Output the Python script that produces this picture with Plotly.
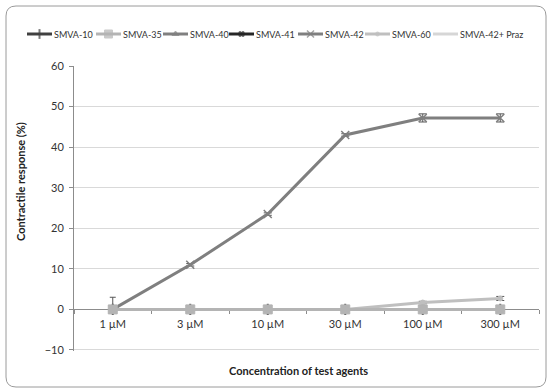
import plotly.graph_objects as go

# ---------------- data ----------------
categories = ["1 µM", "3 µM", "10 µM", "30 µM", "100 µM", "300 µM"]
series_names = ["SMVA-10", "SMVA-35", "SMVA-40", "SMVA-41", "SMVA-42", "SMVA-60", "SMVA-42+ Praz"]
smva10 = [0, 0, 0, 0, 0, 0]
smva10_err = [3.0, 0, 0, 0, 0, 0]
smva35 = [0, 0, 0, 0, 0, 0]
smva40 = [0, 0, 0, 0, 0, 0]
smva41 = [0, 0, 0, 0, 0, 0]
smva42 = [0, 11.0, 23.5, 43.0, 47.2, 47.2]
smva42_err = [0, 0.3, 0.3, 0.3, 1.0, 1.0]
smva60 = [0, 0, 0, 0, 1.7, 2.7]
smva60_err = [0, 0, 0, 0, 0.3, 0.5]
praz = [0, 0, 0, 0, 0, 0]
y_ticks = [-10, 0, 10, 20, 30, 40, 50, 60]

# ---------------- styles ----------------
FONT = "Lato"
TXT = "#333333"
styles = [
    dict(color="#404040", symbol="line-ns-open", size=8, mlw=2),
    dict(color="#b4b4b4", symbol="square", size=9, mlw=1),
    dict(color="#808080", symbol="triangle-up", size=7, mlw=1),
    dict(color="#262626", symbol="hash-open", size=7, mlw=1.5),
    dict(color="#7f7f7f", symbol="x-thin-open", size=8, mlw=1.5),
    dict(color="#bfbfbf", symbol="circle", size=5, mlw=1),
    dict(color="#d6d6d6", symbol="circle", size=0, mlw=0),
]
values = [smva10, smva35, smva40, smva41, smva42, smva60, praz]
errs = [smva10_err, None, None, None, smva42_err, smva60_err, None]
draw_order = [0, 2, 3, 4, 5, 6, 1]

W, H = 550, 392
# plot area in pixels
PX_L, PX_R, PX_T, PX_B = 74, 539, 66, 351

fig = go.Figure()

for i in draw_order:
    name, vals, st, err = series_names[i], values[i], styles[i], errs[i]
    error_y = None
    if err is not None:
        if i == 0:
            error_y = dict(type="data", array=err, arrayminus=[0] * len(err), symmetric=False,
                           color="#555555", thickness=1, width=3)
        else:
            error_y = dict(type="data", array=err, color="#555555", thickness=1, width=4)
    fig.add_trace(go.Scatter(
        x=categories, y=vals, name=name, mode="lines+markers",
        line=dict(color=st["color"], width=3),
        marker=dict(symbol=st["symbol"], size=st["size"], color=st["color"],
                    line=dict(color=st["color"], width=st["mlw"])),
        error_y=error_y, showlegend=False, xaxis="x", yaxis="y",
    ))

# ---------------- custom legend (drawn on a pixel overlay axis) ----------------
LEG_X = [27, 96, 163, 229, 298, 365, 433]
LEG_Y = 34
LEG_LEN = 25
for name, st, x0 in zip(series_names, styles, LEG_X):
    fig.add_trace(go.Scatter(
        x=[x0, x0 + LEG_LEN / 2, x0 + LEG_LEN], y=[LEG_Y] * 3, mode="lines+markers",
        line=dict(color=st["color"], width=3),
        marker=dict(symbol=st["symbol"], size=[0, max(st["size"] - 1, 0), 0], color=st["color"],
                    line=dict(color=st["color"], width=st["mlw"])),
        showlegend=False, hoverinfo="skip", xaxis="x2", yaxis="y2",
    ))
    fig.add_annotation(x=x0 + LEG_LEN, y=LEG_Y, xref="x2", yref="y2", text=name,
                       showarrow=False, xanchor="left", yanchor="middle",
                       font=dict(family=FONT, size=9, color=TXT))

# axis titles
fig.add_annotation(x=298, y=370, xref="x2", yref="y2", text="<b>Concentration of test agents</b>",
                   showarrow=False, xanchor="center", yanchor="middle",
                   font=dict(family=FONT, size=11, color="#222222"))
fig.add_annotation(x=20, y=182, xref="x2", yref="y2", text="<b>Contractile response (%)</b>",
                   showarrow=False, textangle=-90, xanchor="center", yanchor="middle",
                   font=dict(family=FONT, size=11, color="#222222"))

# outer rounded border
r = 10
x0b, y0b, x1b, y1b = 6, 6, 546, 387
path = (f"M {x0b + r},{y0b} L {x1b - r},{y0b} Q {x1b},{y0b} {x1b},{y0b + r} "
        f"L {x1b},{y1b - r} Q {x1b},{y1b} {x1b - r},{y1b} L {x0b + r},{y1b} "
        f"Q {x0b},{y1b} {x0b},{y1b - r} L {x0b},{y0b + r} Q {x0b},{y0b} {x0b + r},{y0b} Z")
fig.add_shape(type="path", path=path, xref="x2", yref="y2",
              line=dict(color="#9a9a9a", width=1))

y_lo, y_hi = y_ticks[0], y_ticks[-1]
pad = 0.25  # small headroom so the -10 gridline is drawn inside the plot area
zero_frac = ((H - PX_B) + (0 - (y_lo - pad)) / (y_hi - y_lo + pad) * (PX_B - PX_T)) / H

fig.update_layout(
    width=W, height=H,
    margin=dict(l=0, r=0, t=0, b=0),
    paper_bgcolor="white", plot_bgcolor="rgba(0,0,0,0)",
    font=dict(family=FONT, color=TXT),
    showlegend=False, hovermode=False,
    xaxis=dict(
        type="category", domain=[PX_L / W, PX_R / W], anchor="free", position=zero_frac,
        range=[-0.5, len(categories) - 0.5],
        showline=True, linecolor="#8c8c8c", linewidth=1,
        ticks="outside", tickson="boundaries", ticklen=4, tickcolor="#8c8c8c",
        showgrid=False, zeroline=False, automargin=False, layer="below traces",
        tickfont=dict(family=FONT, size=11, color=TXT), ticklabelstandoff=4,
    ),
    yaxis=dict(
        domain=[(H - PX_B) / H, (H - PX_T) / H], anchor="x",
        range=[y_lo - pad, y_hi], tickvals=y_ticks,
        showline=True, linecolor="#8c8c8c", linewidth=1,
        ticks="outside", ticklen=4, tickcolor="#8c8c8c",
        showgrid=True, gridcolor="#d9d9d9", gridwidth=1,
        zeroline=False, automargin=False, layer="below traces",
        tickfont=dict(family=FONT, size=11, color=TXT), ticklabelstandoff=3,
    ),
    xaxis2=dict(domain=[0, 1], range=[0, W], anchor="y2", visible=False, fixedrange=True),
    yaxis2=dict(domain=[0, 1], range=[H, 0], anchor="x2", visible=False, fixedrange=True),
)

fig.write_html("out.html", config={"displayModeBar": False, "staticPlot": True},
               post_script="document.body.style.margin='0';")
